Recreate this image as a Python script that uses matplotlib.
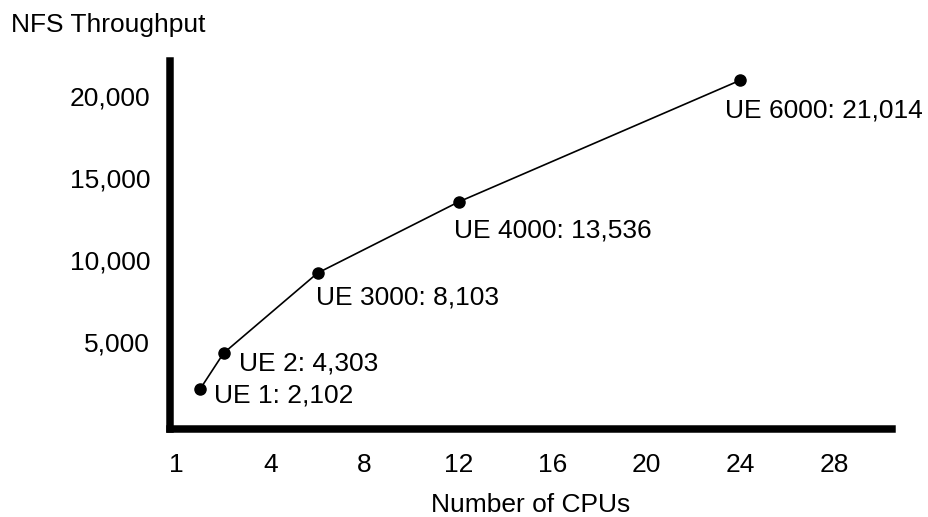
import matplotlib
matplotlib.use("Agg")
import matplotlib.pyplot as plt

# ---- data ----
systems = ["UE 1", "UE 2", "UE 3000", "UE 4000", "UE 6000"]
cpus = [1, 2, 6, 12, 24]
throughput_reported = [2102, 4303, 8103, 13536, 21014]   # values printed in labels
throughput_plotted = [2100, 4300, 9200, 13550, 21000]     # point heights as drawn
x_tick_pos = [0, 4, 8, 12, 16, 20, 24, 28]
x_tick_labels = ["1", "4", "8", "12", "16", "20", "24", "28"]
y_ticks = [5000, 10000, 15000, 20000]
y_tick_labels = ["5,000", "10,000", "15,000", "20,000"]

# label offsets (pixels) relative to each point
label_dx = [14, 15, -2, -5, -15]
label_dy = [-13, -17, -31, -36, -37]

plt.rcParams['font.family'] = ['Liberation Sans', 'DejaVu Sans']
FS = 19

W, H = 929, 517
fig = plt.figure(figsize=(W / 100, H / 100), dpi=100)
left, right, top, bottom = 169.5, 892, 61, 428.5
ax = fig.add_axes([left / W, 1 - bottom / H, (right - left) / W, (bottom - top) / H])

ax.plot(cpus, throughput_plotted, color='black', linewidth=1.2,
        marker='o', markersize=8, markerfacecolor='black', markeredgecolor='black')

for name, val, x, y, dx, dy in zip(systems, throughput_reported, cpus,
                                   throughput_plotted, label_dx, label_dy):
    ax.annotate(f"{name}: {val:,}", xy=(x, y), xytext=(dx, dy),
                textcoords='offset pixels', ha='left', va='baseline',
                fontsize=FS, color='black')

ax.set_xlim(-0.30, 30.45)
ax.set_ylim(-306, 22171)
ax.set_xticks(x_tick_pos)
ax.set_xticklabels(x_tick_labels)
ax.set_yticks(y_ticks)
ax.set_yticklabels(y_tick_labels)
ax.tick_params(axis='x', length=0, pad=17.5, labelsize=FS)
ax.tick_params(axis='y', length=0, pad=14, labelsize=FS)

for s in ['top', 'right']:
    ax.spines[s].set_visible(False)
for s in ['left', 'bottom']:
    ax.spines[s].set_linewidth(5.4)
    ax.spines[s].set_color('black')
    ax.spines[s].set_capstyle('projecting')

fig.text(11 / W, 1 - 31.7 / H, "NFS Throughput", ha='left', va='baseline', fontsize=FS)
fig.text(531 / W, 1 - 511.7 / H, "Number of CPUs", ha='center', va='baseline', fontsize=FS)

fig.savefig("out.png", dpi=100)
